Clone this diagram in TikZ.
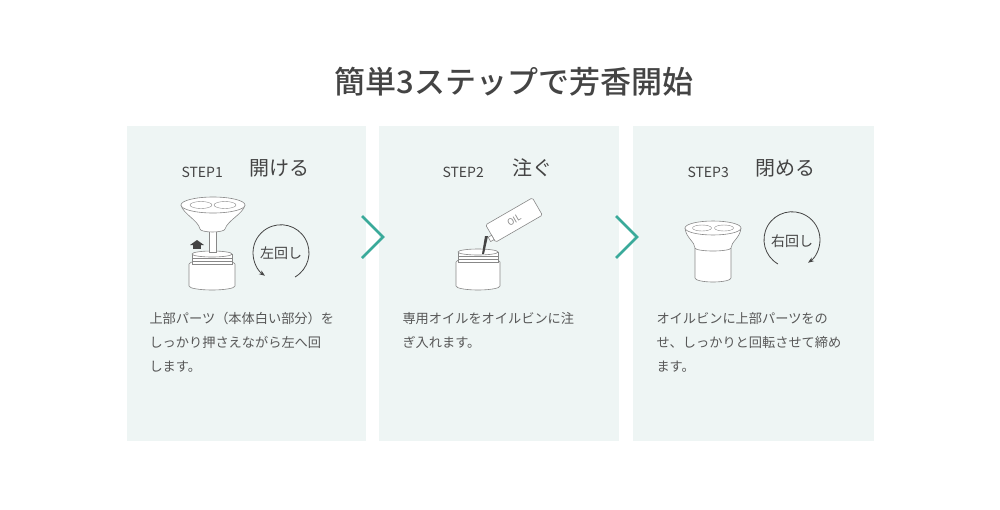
\documentclass[tikz,border=0pt]{standalone}
\usepackage{fontspec}
\setmainfont{Noto Sans CJK JP}
\newfontfamily\jpb{Noto Sans CJK JP Medium}
\usetikzlibrary{arrows.meta}
\definecolor{panel}{HTML}{EEF5F4}
\definecolor{teal}{HTML}{3AAA9A}
\definecolor{txt}{HTML}{444444}
\definecolor{ln}{HTML}{888888}
\tikzset{
  pnl/.style={fill=panel,draw=none},
  chev/.style={draw=teal,line width=2.6pt},
  head/.style={text=txt,font=\fontsize{20}{20}\selectfont,anchor=west},
  stp/.style={text=txt,font=\fontsize{14}{14}\selectfont,anchor=west},
  body/.style={text=txt!90,font=\fontsize{13.2}{24}\selectfont,anchor=north west,align=left},
  ic/.style={draw=ln,line width=0.6pt,fill=white},
  rot/.style={draw=txt,line width=0.8pt},
  rl/.style={text=txt,font=\fontsize{14}{14}\selectfont}
}
\begin{document}
\begin{tikzpicture}[x=1pt,y=-1pt]
\useasboundingbox (0,0) rectangle (1000,509);
\node[text=txt,font=\jpb\fontsize{31}{31}\selectfont] (title) at (514,82) {簡単3ステップで芳香開始};
\fill[panel] (127,126) rectangle (366,441);
\fill[panel] (379,126) rectangle (619,441);
\fill[panel] (633,126) rectangle (874,441);
\draw[chev] (362,216) -- (383,237) -- (362,258);
\draw[chev] (616,216) -- (637,237) -- (616,258);
% headings
\node[stp] (s1) at (178,172) {STEP1};
\node[head] (h1) at (246,168) {開ける};
\node[stp] (s2) at (439,172) {STEP2};
\node[head] (h2) at (509,168) {注ぐ};
\node[stp] (s3) at (684,172) {STEP3};
\node[head] (h3) at (752,168) {閉める};
% body
\node[body] (b1) at (146,309) {上部パーツ（本体白い部分）を\\しっかり押さえながら左へ回\\します。};
\node[body] (b2) at (399,309) {専用オイルをオイルビンに注\\ぎ入れます。};
\node[body] (b3) at (653,309) {オイルビンに上部パーツをの\\せ、しっかりと回転させて締め\\ます。};
% icon 1
\draw[ic] (189,264) -- (189,286) arc (180:0:23 and 4) -- (235,264) arc (0:-180:23 and 4);
\draw[ic] (192,254) rectangle (232,264);
\draw[ic] (212,254) ellipse (20 and 3);
\draw[ln,line width=0.5pt] (192,258)--(232,258) (192,261)--(232,261);
\draw[ic] (209,226) rectangle (216,252);
\draw[ic] (181,205) .. controls (183,214) and (198,220) .. (200,229) arc (180:0:12.5 and 3) .. controls (228,220) and (243,214) .. (245,205);
\draw[ic] (213,205) ellipse (32 and 8);
\draw[ln] (201,205) ellipse (11 and 3.5) (225,205) ellipse (11 and 3.5);
\fill[txt] (190,245) -- (197,240) -- (204,245) -- cycle;
\fill[txt] (193,245) rectangle (201,249);
\draw[rot,-{Stealth[length=6pt]}] (295,277) arc (60:-235:28);
\node[rl] (r1) at (281,253) {左回し};
% icon 2
\draw[ic] (456,262) -- (456,286) arc (180:0:22 and 4) -- (500,262) arc (0:-180:22 and 4);
\draw[ic] (458,252) rectangle (498,262);
\draw[ic] (478,252) ellipse (20 and 3);
\draw[ln,line width=0.5pt] (458,256)--(498,256) (458,259)--(498,259);
\fill[txt] (485,236) -- (488,236) -- (484,254) -- (482,254) -- cycle;
\begin{scope}[shift={(514,220)},rotate=30]
\draw[ic,rounded corners=1.5pt] (-27,-10) rectangle (27,10);
\draw[ic] (-31,2) rectangle (-27,7);
\node[text=ln,font=\fontsize{9}{9}\selectfont,rotate=30,inner sep=0pt] (oil) at (0,0) {OIL};
\end{scope}
% icon 3
\draw[ic] (695,248) -- (695,278) arc (180:0:18 and 4) -- (731,248);
\draw[ic] (685,228) .. controls (686,238) and (695,242) .. (695,248) arc (180:0:18 and 3) .. controls (731,242) and (740,238) .. (741,228);
\draw[ic] (713,228) ellipse (28 and 7);
\draw[ln] (702,228) ellipse (9.5 and 3) (724,228) ellipse (9.5 and 3);
\draw[rot,-{Stealth[length=6pt]}] (778,264) arc (120:415:28);
\node[rl] (r3) at (792,241) {右回し};
\end{tikzpicture}
\end{document}
